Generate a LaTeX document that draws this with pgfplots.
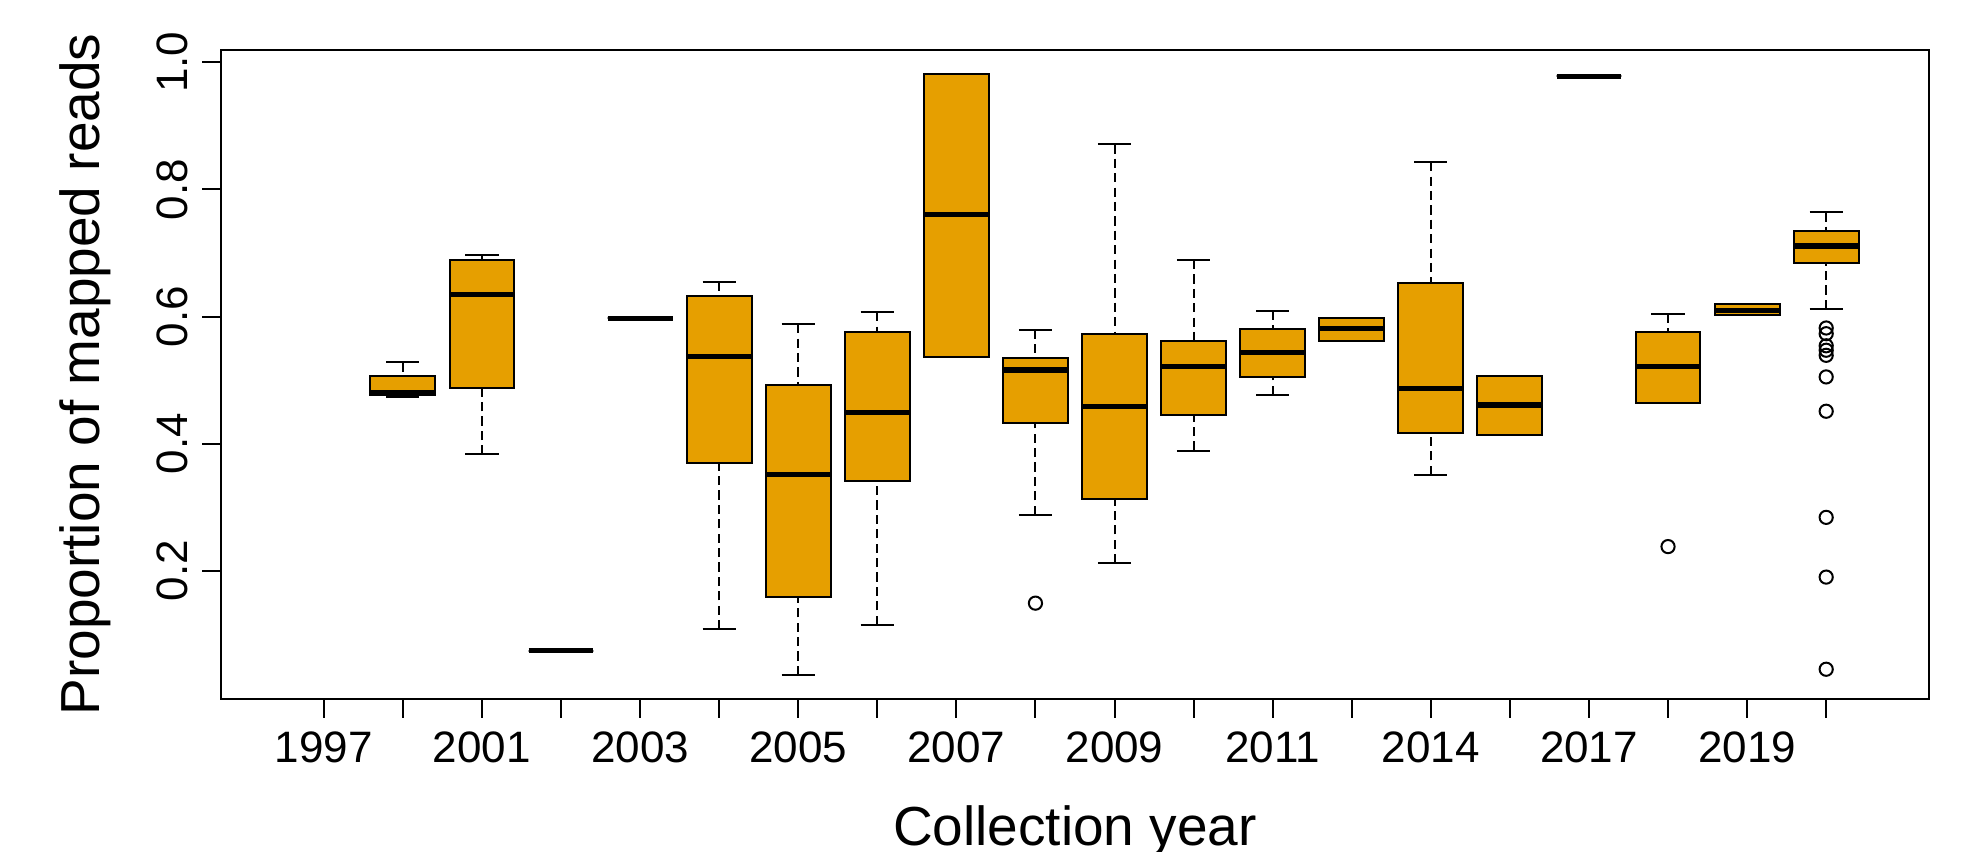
\documentclass[border=0pt]{standalone}
\usepackage{pgfplots}
\pgfplotsset{compat=1.18}
\usepgfplotslibrary{statistics}
\usepackage{fontspec}
\setmainfont{Liberation Sans}
\definecolor{rorange}{HTML}{E69F00}

\begin{document}
\begin{tikzpicture}
\path[use as bounding box] (-55.25pt,-38.25pt) rectangle (435.75pt,174.75pt);
\begin{axis}[
  at={(0,0)}, anchor=south west,
  scale only axis, width=427pt, height=162.25pt,
  xmin=-0.3, xmax=21.3, ymin=-0.0018, ymax=1.0195,
  xtick={1,...,20},
  xticklabels={1997,,2001,,2003,,2005,,2007,,2009,,2011,,2014,,2017,,2019,},
  ytick={0.2,0.4,0.6,0.8,1.0},
  yticklabels={0.2,0.4,0.6,0.8,1.0},
  tick align=outside, xtick pos=left, ytick pos=left,
  major tick length=4.7pt,
  every tick/.style={black, line width=0.5pt},
  axis line style={line width=0.5pt},
  tick label style={font=\fontsize{11}{13}\selectfont},
  yticklabel style={rotate=90, anchor=south},
  xticklabel style={anchor=north},
  label style={font=\fontsize{13.75}{16}\selectfont},
  xlabel={Collection year},
  ylabel={Proportion of mapped reads},
  xlabel style={at={([yshift=-36.75pt]axis description cs:0.5,0)}, anchor=base},
  ylabel style={at={([xshift=-30.25pt]axis description cs:0,0.5)}, anchor=base},
  boxplot/draw direction=y,
  boxplot/box extend=0.82,
  boxplot/whisker extend=0.42,
  boxplot/every box/.style={draw=black, fill=rorange, line width=0.5pt},
  boxplot/every median/.style={draw=black, line width=1.33pt},
  boxplot/every whisker/.style={draw=black, line width=0.5pt},
  boxplot/draw/lower whisker/.code={%
    \draw[/pgfplots/boxplot/every whisker, dash pattern=on 2.3pt off 1.3pt]
      (boxplot box cs:\pgfplotsboxplotvalue{lower whisker},0.5) --
      (boxplot box cs:\pgfplotsboxplotvalue{lower quartile},0.5);
    \draw[/pgfplots/boxplot/every whisker]
      (boxplot whisker cs:\pgfplotsboxplotvalue{lower whisker},0) --
      (boxplot whisker cs:\pgfplotsboxplotvalue{lower whisker},1);
  },
  boxplot/draw/upper whisker/.code={%
    \draw[/pgfplots/boxplot/every whisker, dash pattern=on 2.3pt off 1.3pt]
      (boxplot box cs:\pgfplotsboxplotvalue{upper whisker},0.5) --
      (boxplot box cs:\pgfplotsboxplotvalue{upper quartile},0.5);
    \draw[/pgfplots/boxplot/every whisker]
      (boxplot whisker cs:\pgfplotsboxplotvalue{upper whisker},0) --
      (boxplot whisker cs:\pgfplotsboxplotvalue{upper whisker},1);
  },
  mybox/.style={solid, draw=black, mark=o, mark size=1.65pt,
    mark options={solid, draw=black, line width=0.5pt}},
]
% position 2
\addplot[mybox, boxplot prepared={draw position=2, lower whisker=0.473, lower quartile=0.477, median=0.481, upper quartile=0.506, upper whisker=0.528}] coordinates {};
% 2001
\addplot[mybox, boxplot prepared={draw position=3, lower whisker=0.383, lower quartile=0.487, median=0.635, upper quartile=0.689, upper whisker=0.697}] coordinates {};
% position 4
\addplot[mybox, boxplot prepared={draw position=4, lower whisker=0.074, lower quartile=0.074, median=0.074, upper quartile=0.074, upper whisker=0.074}] coordinates {};
% 2003
\addplot[mybox, boxplot prepared={draw position=5, lower whisker=0.597, lower quartile=0.597, median=0.597, upper quartile=0.597, upper whisker=0.597}] coordinates {};
% position 6
\addplot[mybox, boxplot prepared={draw position=6, lower whisker=0.108, lower quartile=0.370, median=0.537, upper quartile=0.632, upper whisker=0.654}] coordinates {};
% 2005
\addplot[mybox, boxplot prepared={draw position=7, lower whisker=0.036, lower quartile=0.159, median=0.351, upper quartile=0.492, upper whisker=0.588}] coordinates {};
% position 8
\addplot[mybox, boxplot prepared={draw position=8, lower whisker=0.115, lower quartile=0.342, median=0.449, upper quartile=0.575, upper whisker=0.607}] coordinates {};
% 2007
\addplot[mybox, boxplot prepared={draw position=9, lower whisker=0.537, lower quartile=0.537, median=0.761, upper quartile=0.981, upper whisker=0.981}] coordinates {};
% position 10
\addplot[mybox, boxplot prepared={draw position=10, lower whisker=0.288, lower quartile=0.432, median=0.516, upper quartile=0.534, upper whisker=0.579}] coordinates {(0,0.149)};
% 2009
\addplot[mybox, boxplot prepared={draw position=11, lower whisker=0.212, lower quartile=0.313, median=0.458, upper quartile=0.572, upper whisker=0.871}] coordinates {};
% position 12
\addplot[mybox, boxplot prepared={draw position=12, lower whisker=0.389, lower quartile=0.445, median=0.521, upper quartile=0.562, upper whisker=0.689}] coordinates {};
% 2011
\addplot[mybox, boxplot prepared={draw position=13, lower whisker=0.477, lower quartile=0.505, median=0.543, upper quartile=0.581, upper whisker=0.609}] coordinates {};
% position 14
\addplot[mybox, boxplot prepared={draw position=14, lower whisker=0.562, lower quartile=0.562, median=0.581, upper quartile=0.597, upper whisker=0.597}] coordinates {};
% 2014
\addplot[mybox, boxplot prepared={draw position=15, lower whisker=0.351, lower quartile=0.417, median=0.487, upper quartile=0.653, upper whisker=0.843}] coordinates {};
% position 16
\addplot[mybox, boxplot prepared={draw position=16, lower whisker=0.414, lower quartile=0.414, median=0.461, upper quartile=0.506, upper whisker=0.506}] coordinates {};
% 2017
\addplot[mybox, boxplot prepared={draw position=17, lower whisker=0.978, lower quartile=0.978, median=0.978, upper quartile=0.978, upper whisker=0.978}] coordinates {};
% position 18
\addplot[mybox, boxplot prepared={draw position=18, lower whisker=0.464, lower quartile=0.464, median=0.521, upper quartile=0.575, upper whisker=0.604}] coordinates {(0,0.238)};
% 2019
\addplot[mybox, boxplot prepared={draw position=19, lower whisker=0.603, lower quartile=0.603, median=0.609, upper quartile=0.619, upper whisker=0.619}] coordinates {};
% position 20
\addplot[mybox, boxplot prepared={draw position=20, lower whisker=0.612, lower quartile=0.685, median=0.711, upper quartile=0.735, upper whisker=0.764}] coordinates {(0,0.582) (0,0.573) (0,0.554) (0,0.547) (0,0.539) (0,0.505) (0,0.451) (0,0.284) (0,0.190) (0,0.045)};
\end{axis}
\end{tikzpicture}
\end{document}
